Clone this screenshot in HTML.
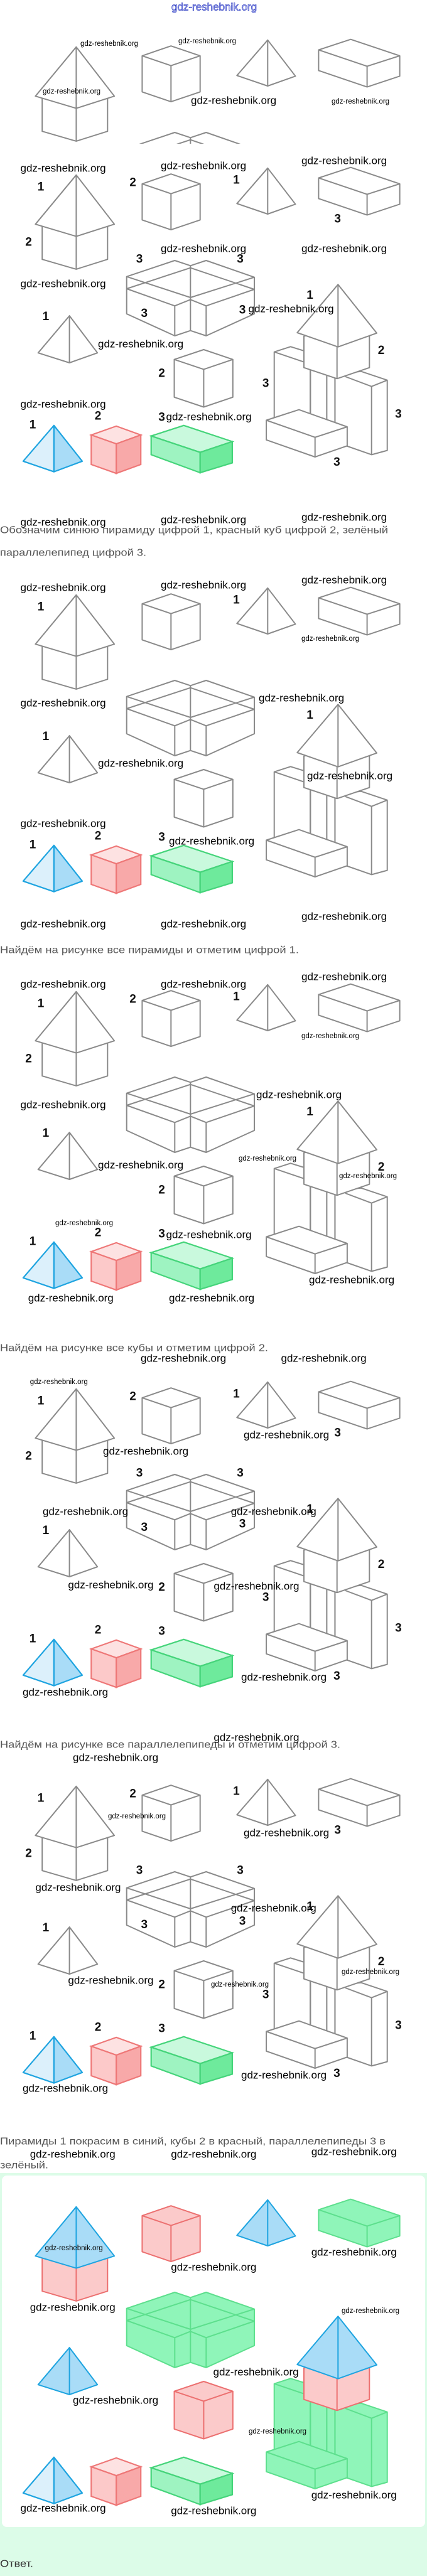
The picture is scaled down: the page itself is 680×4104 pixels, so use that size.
<!DOCTYPE html>
<html><head><meta charset="utf-8"><style>
html,body{margin:0;padding:0;background:#fff;}
svg{display:block;}
.t{font-family:"Liberation Sans",sans-serif;font-size:16px;fill:#555;dominant-baseline:central;}
.n{font-family:"Liberation Sans",sans-serif;font-size:19px;font-weight:bold;fill:#111;text-anchor:middle;dominant-baseline:central;}
.w{font-family:"Liberation Sans",sans-serif;font-size:17px;fill:#000;dominant-baseline:central;}
.ws{font-family:"Liberation Sans",sans-serif;font-size:11.5px;fill:#000;dominant-baseline:central;}
.g{stroke:#8a8a8a;stroke-width:2;stroke-linejoin:round;fill:none;}
.p{fill:var(--pf,#fff);stroke:var(--ps,#8a8a8a);stroke-width:2;stroke-linejoin:round;}
.c{fill:var(--cf,#fff);stroke:var(--cs,#8a8a8a);stroke-width:2;stroke-linejoin:round;}
.b{fill:var(--bf,#fff);stroke:var(--bs,#8a8a8a);stroke-width:2;stroke-linejoin:round;}
.pl{stroke:var(--ps,#8a8a8a);stroke-width:2;fill:none;}
.cl{stroke:var(--cs,#8a8a8a);stroke-width:2;fill:none;}
.bl{stroke:var(--bs,#8a8a8a);stroke-width:2;fill:none;}
</style></head><body>
<svg width="680" height="4104" viewBox="0 0 680 4104" xmlns="http://www.w3.org/2000/svg">
<defs>
<clipPath id="c1"><rect x="0" y="0" width="680" height="229"/></clipPath>
<g id="fig">
 <!-- house -->
 <polygon class="c" points="67.2,355 67.2,413.2 121.4,428.9 171.3,413.2 171.3,355 121,340"/>
 <line class="cl" x1="121.4" y1="376.6" x2="121.4" y2="428.9"/>
 <polygon class="p" points="121.4,278.8 56.4,357.2 121.4,376.6 182.1,357.2"/>
 <line class="pl" x1="121.4" y1="278.8" x2="121.4" y2="376.6"/>
 <!-- cube 1 -->
 <polygon class="c" points="226.4,292.9 272.3,277.2 318.7,292.9 318.7,350.4 272.3,366.1 226.4,350.4"/>
 <polyline class="cl" points="226.4,292.9 272.3,308.6 318.7,292.9"/>
 <line class="cl" x1="272.3" y1="308.6" x2="272.3" y2="366.1"/>
 <!-- pyramid 2 -->
 <polygon class="p" points="426.3,267.8 377.3,324.3 426.3,341 470.5,325.3"/>
 <line class="pl" x1="426.3" y1="267.8" x2="426.3" y2="341"/>
 <!-- flat box -->
 <polygon class="b" points="507.4,283.5 558.5,266.7 636.6,292.9 636.6,325.3 584.6,342.6 507.4,316.4"/>
 <polyline class="bl" points="507.4,283.5 584.6,309.6 636.6,292.9"/>
 <line class="bl" x1="584.6" y1="309.6" x2="584.6" y2="342.6"/>
 <!-- block -->
 <polygon class="b" points="201.7,440.7 278.3,415 303.3,423.3 328.3,415 405,441.7 405,500 328.3,535 303.3,526.7 278.3,535 201.7,500"/>
 <polyline class="bl" points="201.7,460 278.3,487.3 303.3,477.3 328.3,487.3 405,461"/>
 <line class="bl" x1="201.7" y1="440.7" x2="303.3" y2="474"/>
 <line class="bl" x1="405" y1="441.7" x2="303.3" y2="474"/>
 <line class="bl" x1="201.7" y1="460" x2="303.3" y2="426.7"/>
 <line class="bl" x1="405" y1="461" x2="303.3" y2="426.7"/>
 <line class="bl" x1="303.3" y1="423.3" x2="303.3" y2="526.7"/>
 <line class="bl" x1="278.3" y1="487.3" x2="278.3" y2="535"/>
 <line class="bl" x1="328.3" y1="487.3" x2="328.3" y2="535"/>
 <!-- pyramid 3 -->
 <polygon class="p" points="110.6,503.1 60.7,562.2 110.6,578 155.2,562.2"/>
 <line class="pl" x1="110.6" y1="503.1" x2="110.6" y2="578"/>
 <!-- cube 2 -->
 <polygon class="c" points="277.5,572.7 324.4,557 370.8,572.7 370.8,632.8 324.4,648.5 277.5,632.8"/>
 <polyline class="cl" points="277.5,572.7 324.4,588.4 370.8,572.7"/>
 <line class="cl" x1="324.4" y1="588.4" x2="324.4" y2="648.5"/>
 <!-- castle -->
 <polygon class="b" points="436.7,680 436.7,560.7 462.7,552.3 494,562 494,680"/>
 <line class="bl" x1="436.7" y1="560.7" x2="484" y2="576.7"/>
 <polygon class="b" points="533.4,596 575,591.7 616.7,605.7 616.7,717.6 591.9,724.4 533.4,704"/>
 <polyline class="bl" points="550,600 591.7,615.7 616.7,605.7"/>
 <line class="bl" x1="591.7" y1="615.7" x2="591.7" y2="724.4"/>
 <rect class="b" x="494.4" y="585" width="26" height="95"/>
 <rect class="b" x="520.4" y="590" width="13" height="90"/>
 <polygon class="c" points="484,535.7 484,585.7 536.7,603.3 588.3,585.7 588.3,535.7 538,520"/>
 <line class="cl" x1="536.7" y1="552.7" x2="536.7" y2="603.3"/>
 <polygon class="p" points="538.3,453.3 473.3,530 538.3,552.7 600,530.7"/>
 <line class="pl" x1="538.3" y1="453.3" x2="538.3" y2="552.7"/>
 <polygon class="b" points="424.1,669.5 476.1,652.7 552.9,680 552.9,710.3 501.7,728 424.1,700.8"/>
 <polyline class="bl" points="424.1,669.5 501.7,696.7 552.9,680"/>
 <line class="bl" x1="501.7" y1="696.7" x2="501.7" y2="728"/>
 <!-- bottom colored row -->
 <polygon points="85.9,677.8 36.9,734.8 85.9,751.6" fill="#dcf0fb" stroke="#1ea4e0" stroke-width="2.2" stroke-linejoin="round"/>
 <polygon points="85.9,677.8 131,734.8 85.9,751.6" fill="#a9dcf7" stroke="#1ea4e0" stroke-width="2.2" stroke-linejoin="round"/>
 <polygon points="145.3,693 185.2,678.9 224.2,693 185.2,707.1" fill="#fde2e2" stroke="#ee7777" stroke-width="2.2"/>
 <polygon points="145.3,693 185.2,707.1 185.2,754.2 145.3,740" fill="#fcc9c9" stroke="#ee7777" stroke-width="2.2"/>
 <polygon points="185.2,707.1 224.2,693 224.2,740 185.2,754.2" fill="#f8a9a9" stroke="#ee7777" stroke-width="2.2"/>
 <polygon points="240.7,694.6 292.7,677.8 369.9,703.5 318.7,720.7" fill="#c9f9dd" stroke="#45d47a" stroke-width="2.2"/>
 <polygon points="240.7,694.6 318.7,720.7 318.7,753.1 240.7,724.4" fill="#9ef3c1" stroke="#45d47a" stroke-width="2.2"/>
 <polygon points="318.7,720.7 369.9,703.5 369.9,737.4 318.7,753.1" fill="#6eea9c" stroke="#45d47a" stroke-width="2.2"/>
</g>
</defs>

<!-- header -->
<text x="341" y="11" text-anchor="middle" dominant-baseline="central" font-family="Liberation Sans, sans-serif" font-size="17" fill="#d8d8ff" stroke="#2a3ac0" stroke-width="0.7">gdz-reshebnik.org</text>

<!-- figure 1 (cut) -->
<g clip-path="url(#c1)"><use href="#fig" transform="translate(0,-204)"/></g>
<text class="ws" x="128" y="70">gdz-reshebnik.org</text>
<text class="ws" x="284" y="66">gdz-reshebnik.org</text>
<text class="ws" x="68" y="146">gdz-reshebnik.org</text>
<text class="w" x="304" y="160">gdz-reshebnik.org</text>
<text class="ws" x="528" y="162">gdz-reshebnik.org</text>

<!-- figure 2 -->
<use href="#fig"/>
<g>
<text class="n" x="65" y="298">1</text><text class="n" x="211.6" y="291">2</text><text class="n" x="376.4" y="287">1</text><text class="n" x="537.7" y="349">3</text><text class="n" x="45.5" y="386">2</text><text class="n" x="222" y="413">3</text><text class="n" x="382.5" y="413">3</text><text class="n" x="229.8" y="499.5">3</text><text class="n" x="386" y="494">3</text><text class="n" x="493.5" y="470.7">1</text><text class="n" x="72.9" y="504.7">1</text><text class="n" x="257.6" y="595">2</text><text class="n" x="607" y="558.6">2</text><text class="n" x="423.2" y="610.9">3</text><text class="n" x="634.4" y="660">3</text><text class="n" x="536.4" y="736.4">3</text><text class="n" x="52" y="677">1</text><text class="n" x="156" y="663">2</text><text class="n" x="257.6" y="665">3</text>
</g>
<text class="w" x="32.5" y="268">gdz-reshebnik.org</text>
<text class="w" x="256" y="264">gdz-reshebnik.org</text>
<text class="w" x="480" y="256">gdz-reshebnik.org</text>
<text class="w" x="256" y="396">gdz-reshebnik.org</text>
<text class="w" x="480" y="396">gdz-reshebnik.org</text>
<text class="w" x="32.5" y="452">gdz-reshebnik.org</text>
<text class="w" x="395.5" y="492">gdz-reshebnik.org</text>
<text class="w" x="156" y="548">gdz-reshebnik.org</text>
<text class="w" x="32.5" y="644">gdz-reshebnik.org</text>
<text class="w" x="264.5" y="664">gdz-reshebnik.org</text>
<text class="w" x="32.5" y="832">gdz-reshebnik.org</text>
<text class="w" x="256" y="828">gdz-reshebnik.org</text>
<text class="w" x="480" y="824">gdz-reshebnik.org</text>

<text class="t" x="0" y="845" textLength="618" lengthAdjust="spacingAndGlyphs">Обозначим синюю пирамиду цифрой 1, красный куб цифрой 2, зелёный</text>
<text class="t" x="0" y="881" textLength="233" lengthAdjust="spacingAndGlyphs">параллелепипед цифрой 3.</text>

<!-- figure 3 -->
<use href="#fig" transform="translate(0,669)"/>
<g transform="translate(0,669)">
<text class="n" x="65" y="298">1</text><text class="n" x="376.4" y="287">1</text><text class="n" x="493.5" y="470.7">1</text><text class="n" x="72.9" y="504.7">1</text><text class="n" x="52" y="677">1</text><text class="n" x="156" y="663">2</text><text class="n" x="257.6" y="665">3</text>
</g>
<text class="w" x="32.5" y="936">gdz-reshebnik.org</text>
<text class="w" x="256" y="932">gdz-reshebnik.org</text>
<text class="w" x="480" y="924">gdz-reshebnik.org</text>
<text class="ws" x="480" y="1018">gdz-reshebnik.org</text>
<text class="w" x="32.5" y="1120">gdz-reshebnik.org</text>
<text class="w" x="412" y="1112">gdz-reshebnik.org</text>
<text class="w" x="156" y="1216">gdz-reshebnik.org</text>
<text class="w" x="489" y="1236">gdz-reshebnik.org</text>
<text class="w" x="32.5" y="1312">gdz-reshebnik.org</text>
<text class="w" x="269" y="1340">gdz-reshebnik.org</text>
<text class="w" x="32.5" y="1472">gdz-reshebnik.org</text>
<text class="w" x="256" y="1472">gdz-reshebnik.org</text>
<text class="w" x="480" y="1460">gdz-reshebnik.org</text>

<text class="t" x="0" y="1514" textLength="476" lengthAdjust="spacingAndGlyphs">Найдём на рисунке все пирамиды и отметим цифрой 1.</text>

<!-- figure 4 -->
<use href="#fig" transform="translate(0,1301)"/>
<g transform="translate(0,1301)">
<text class="n" x="65" y="298">1</text><text class="n" x="211.6" y="291">2</text><text class="n" x="376.4" y="287">1</text><text class="n" x="45.5" y="386">2</text><text class="n" x="493.5" y="470.7">1</text><text class="n" x="72.9" y="504.7">1</text><text class="n" x="257.6" y="595">2</text><text class="n" x="607" y="558.6">2</text><text class="n" x="52" y="677">1</text><text class="n" x="156" y="663">2</text><text class="n" x="257.6" y="665">3</text>
</g>
<text class="w" x="32.5" y="1568">gdz-reshebnik.org</text>
<text class="w" x="256" y="1568">gdz-reshebnik.org</text>
<text class="w" x="480" y="1556">gdz-reshebnik.org</text>
<text class="ws" x="480" y="1651">gdz-reshebnik.org</text>
<text class="w" x="408" y="1744">gdz-reshebnik.org</text>
<text class="w" x="32.5" y="1760">gdz-reshebnik.org</text>
<text class="w" x="156" y="1856">gdz-reshebnik.org</text>
<text class="ws" x="380" y="1846">gdz-reshebnik.org</text>
<text class="ws" x="540" y="1874">gdz-reshebnik.org</text>
<text class="ws" x="88" y="1949">gdz-reshebnik.org</text>
<text class="w" x="264.5" y="1967">gdz-reshebnik.org</text>
<text class="w" x="492" y="2039">gdz-reshebnik.org</text>
<text class="w" x="44.7" y="2068">gdz-reshebnik.org</text>
<text class="w" x="269" y="2068">gdz-reshebnik.org</text>

<text class="t" x="0" y="2148" textLength="427" lengthAdjust="spacingAndGlyphs">Найдём на рисунке все кубы и отметим цифрой 2.</text>

<!-- figure 5 -->
<use href="#fig" transform="translate(0,1934)"/>
<g transform="translate(0,1934)">
<text class="n" x="65" y="298">1</text><text class="n" x="211.6" y="291">2</text><text class="n" x="376.4" y="287">1</text><text class="n" x="537.7" y="349">3</text><text class="n" x="45.5" y="386">2</text><text class="n" x="222" y="413">3</text><text class="n" x="382.5" y="413">3</text><text class="n" x="229.8" y="499.5">3</text><text class="n" x="386" y="494">3</text><text class="n" x="493.5" y="470.7">1</text><text class="n" x="72.9" y="504.7">1</text><text class="n" x="257.6" y="595">2</text><text class="n" x="607" y="558.6">2</text><text class="n" x="423.2" y="610.9">3</text><text class="n" x="634.4" y="660">3</text><text class="n" x="536.4" y="736.4">3</text><text class="n" x="52" y="677">1</text><text class="n" x="156" y="663">2</text><text class="n" x="257.6" y="665">3</text>
</g>
<text class="w" x="224" y="2164">gdz-reshebnik.org</text>
<text class="w" x="447.5" y="2164">gdz-reshebnik.org</text>
<text class="ws" x="47.7" y="2202">gdz-reshebnik.org</text>
<text class="w" x="388" y="2286">gdz-reshebnik.org</text>
<text class="w" x="164" y="2312">gdz-reshebnik.org</text>
<text class="w" x="68" y="2408">gdz-reshebnik.org</text>
<text class="w" x="367.7" y="2408">gdz-reshebnik.org</text>
<text class="w" x="108.4" y="2525">gdz-reshebnik.org</text>
<text class="w" x="340.4" y="2527">gdz-reshebnik.org</text>
<text class="w" x="384" y="2672">gdz-reshebnik.org</text>
<text class="w" x="36" y="2696">gdz-reshebnik.org</text>

<text class="t" x="0" y="2780" textLength="542" lengthAdjust="spacingAndGlyphs">Найдём на рисунке все параллелепипеды и отметим цифрой 3.</text>

<!-- figure 6 -->
<use href="#fig" transform="translate(0,2567)"/>
<g transform="translate(0,2567)">
<text class="n" x="65" y="298">1</text><text class="n" x="211.6" y="291">2</text><text class="n" x="376.4" y="287">1</text><text class="n" x="537.7" y="349">3</text><text class="n" x="45.5" y="386">2</text><text class="n" x="222" y="413">3</text><text class="n" x="382.5" y="413">3</text><text class="n" x="229.8" y="499.5">3</text><text class="n" x="386" y="494">3</text><text class="n" x="493.5" y="470.7">1</text><text class="n" x="72.9" y="504.7">1</text><text class="n" x="257.6" y="595">2</text><text class="n" x="607" y="558.6">2</text><text class="n" x="423.2" y="610.9">3</text><text class="n" x="634.4" y="660">3</text><text class="n" x="536.4" y="736.4">3</text><text class="n" x="52" y="677">1</text><text class="n" x="156" y="663">2</text><text class="n" x="257.6" y="665">3</text>
</g>
<text class="w" x="340.4" y="2768">gdz-reshebnik.org</text>
<text class="w" x="116" y="2800">gdz-reshebnik.org</text>
<text class="ws" x="172" y="2894">gdz-reshebnik.org</text>
<text class="w" x="388" y="2920">gdz-reshebnik.org</text>
<text class="w" x="56.4" y="3007">gdz-reshebnik.org</text>
<text class="w" x="367.7" y="3040">gdz-reshebnik.org</text>
<text class="w" x="108.4" y="3155">gdz-reshebnik.org</text>
<text class="ws" x="336" y="3162">gdz-reshebnik.org</text>
<text class="ws" x="544" y="3142">gdz-reshebnik.org</text>
<text class="w" x="384" y="3306">gdz-reshebnik.org</text>
<text class="w" x="36" y="3327">gdz-reshebnik.org</text>

<text class="t" x="0" y="3412" textLength="614" lengthAdjust="spacingAndGlyphs">Пирамиды 1 покрасим в синий, кубы 2 в красный, параллелепипеды 3 в</text>
<text class="t" x="0" y="3450" textLength="77" lengthAdjust="spacingAndGlyphs">зелёный.</text>

<!-- answer area -->
<rect x="0" y="3462" width="680" height="642" fill="#dcfce8"/>
<rect x="3" y="3466" width="674" height="560" rx="8" fill="#fff"/>

<!-- figure 7 colored -->
<use href="#fig" transform="translate(0,3237)" style="--pf:#a9dcf7;--ps:#1ea4e0;--cf:#fbcaca;--cs:#ec7070;--bf:#8ff5b9;--bs:#5ddf8d"/>
<text class="w" x="47.7" y="3432">gdz-reshebnik.org</text>
<text class="w" x="272.3" y="3432">gdz-reshebnik.org</text>
<text class="w" x="495.7" y="3428">gdz-reshebnik.org</text>
<text class="ws" x="71.6" y="3582">gdz-reshebnik.org</text>
<text class="w" x="495.7" y="3588">gdz-reshebnik.org</text>
<text class="w" x="272.3" y="3612">gdz-reshebnik.org</text>
<text class="w" x="47.7" y="3676">gdz-reshebnik.org</text>
<text class="ws" x="544" y="3682">gdz-reshebnik.org</text>
<text class="w" x="339.5" y="3779">gdz-reshebnik.org</text>
<text class="w" x="116" y="3824">gdz-reshebnik.org</text>
<text class="ws" x="396" y="3874">gdz-reshebnik.org</text>
<text class="w" x="495.7" y="3975">gdz-reshebnik.org</text>
<text class="w" x="32.5" y="3996">gdz-reshebnik.org</text>
<text class="w" x="272.3" y="4000">gdz-reshebnik.org</text>

<text class="t" x="0" y="4085" fill="#333" style="fill:#333" textLength="53" lengthAdjust="spacingAndGlyphs">Ответ.</text>
</svg>
</body></html>
